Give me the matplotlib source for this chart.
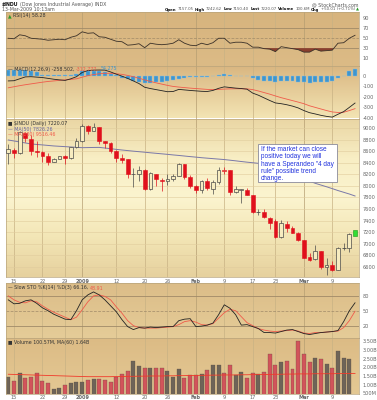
import matplotlib.pyplot as plt
import numpy as np
from matplotlib.colors import LinearSegmentedColormap
from matplotlib.patches import Rectangle

# trading days 12-Dec-2008 .. 13-Mar-2009
tick_idx = [1, 6, 10, 13, 19, 24, 28, 33, 38, 43, 47, 52, 57]
tick_lbl = ['15', '22', '29', '2009', '12', '20', '26', 'Feb', '9', '17', '23', 'Mar', '9']

opens = [8560, 8628, 8565, 8920, 8815, 8605, 8580, 8520, 8420, 8468, 8515, 8484, 8668, 8772,
         9035, 8955, 9010, 8770, 8738, 8598, 8475, 8470, 8200, 8205, 8280, 7950, 8200, 8110,
         8078, 8116, 8175, 8370, 8150, 8000, 7937, 8078, 7950, 8060, 8262, 8270, 7888, 7930,
         7932, 7845, 7550, 7555, 7440, 7400, 7115, 7350, 7265, 7180, 7063, 6765, 6730, 6870,
         6595, 6630, 6547, 6925, 6930, 7157]
highs = [8730, 8660, 8945, 8935, 8880, 8780, 8610, 8560, 8480, 8520, 8540, 8670, 8830, 9065,
         9050, 9088, 9010, 8780, 8750, 8620, 8550, 8470, 8309, 8340, 8290, 8240, 8210, 8140,
         8200, 8200, 8390, 8380, 8180, 8020, 8110, 8130, 8110, 8320, 8320, 8280, 7990, 7950,
         7960, 7850, 7600, 7600, 7460, 7430, 7411, 7400, 7300, 7200, 7063, 6840, 6980, 6875,
         6760, 6700, 6950, 7010, 7180, 7242]
lows = [8370, 8480, 8550, 8760, 8530, 8500, 8420, 8360, 8410, 8460, 8380, 8470, 8660, 8760,
        8900, 8940, 8720, 8650, 8565, 8410, 8400, 8140, 7986, 8090, 7930, 7930, 8000, 7909,
        8020, 8080, 8170, 8120, 7960, 7880, 7870, 7930, 7860, 8040, 8200, 7850, 7880, 7700,
        7840, 7530, 7490, 7440, 7250, 7100, 7100, 7200, 7180, 7050, 6750, 6705, 6725, 6570,
        6470, 6530, 6547, 6900, 6860, 7150]
closes = [8630, 8565, 8924, 8824, 8605, 8579, 8520, 8419, 8468, 8515, 8484, 8668, 8776, 9035,
          8953, 9015, 8770, 8742, 8599, 8474, 8449, 8200, 8212, 8281, 7949, 8228, 8123, 8077,
          8116, 8175, 8375, 8149, 8001, 7937, 8078, 7957, 8063, 8281, 8271, 7889, 7940, 7942,
          7850, 7553, 7556, 7466, 7366, 7115, 7351, 7271, 7182, 7063, 6763, 6726, 6876, 6594,
          6627, 6547, 6926, 6930, 7170, 7220]
ma50 = [8793, 8776, 8759, 8742, 8725, 8716, 8708, 8699, 8690, 8684, 8678, 8672, 8666, 8660,
        8662, 8664, 8665, 8654, 8643, 8631, 8620, 8610, 8600, 8591, 8582, 8572, 8563, 8554,
        8545, 8535, 8526, 8516, 8506, 8497, 8487, 8479, 8471, 8463, 8455, 8444, 8433, 8421,
        8410, 8400, 8390, 8368, 8345, 8315, 8285, 8243, 8200, 8160, 8120, 8083, 8045, 8015,
        7985, 7953, 7920, 7890, 7860, 7826]

rsi = [50, 49, 57, 55, 50, 49, 48, 46, 47, 48, 47, 52, 55, 63, 60, 61, 53, 52, 48, 44, 43,
       36, 37, 39, 31, 40, 38, 37, 38, 40, 47, 40, 36, 35, 40, 37, 41, 50, 50, 40, 42, 42,
       40, 32, 32, 29, 28, 23, 33, 31, 29, 27, 22, 22, 28, 24, 25, 26, 40, 41, 50, 56]

macd = [-50, -48, -30, -12, -10, -14, -18, -26, -34, -40, -45, -30, -10, 30, 48, 52, 53, 52,
        35, 14, -5, -26, -50, -75, -110, -122, -132, -142, -152, -150, -130, -135, -140, -144,
        -148, -150, -140, -120, -106, -112, -118, -122, -128, -165, -185, -210, -235, -258,
        -265, -275, -288, -305, -330, -350, -362, -375, -385, -392, -365, -340, -300, -259]
signal = [-115, -105, -95, -86, -78, -70, -62, -55, -50, -45, -40, -35, -30, -15, 0, 10, 18,
          22, 22, 18, 12, 2, -10, -25, -40, -55, -68, -80, -92, -102, -108, -113, -118, -122,
          -126, -130, -132, -130, -127, -125, -124, -124, -125, -132, -145, -160, -175, -192,
          -208, -222, -236, -250, -265, -285, -300, -315, -330, -343, -348, -346, -330, -312]
hist = [55, 55, 52, 50, 45, 30, 8, 5, 3, 2, 3, 5, 15, 40, 45, 45, 40, 35, 18, 2, -18, -35,
        -50, -60, -68, -65, -62, -58, -55, -45, -28, -18, -12, -10, -14, -12, -8, 5, 15, 5,
        -2, -3, -5, -25, -40, -50, -55, -58, -55, -55, -55, -58, -62, -65, -62, -60, -58, -55,
        -25, -5, 40, 65]

sto_k = [72, 64, 65, 70, 72, 65, 56, 50, 43, 38, 33, 32, 50, 72, 82, 88, 82, 72, 60, 48, 32,
         18, 12, 16, 15, 17, 16, 17, 18, 18, 30, 33, 34, 18, 19, 21, 25, 42, 62, 55, 42, 21,
         22, 18, 14, 6, 6, 5, 8, 11, 12, 8, 4, 2, 4, 6, 7, 8, 10, 28, 50, 66]
sto_d = [80, 72, 67, 66, 70, 68, 60, 53, 47, 42, 37, 32, 37, 52, 68, 80, 82, 79, 72, 58, 45,
         30, 20, 16, 15, 15, 15, 16, 17, 18, 22, 28, 30, 27, 22, 21, 24, 35, 46, 53, 50, 38,
         26, 20, 14, 11, 9, 8, 9, 10, 11, 9, 5, 4, 6, 6, 7, 8, 9, 16, 30, 49]

volume = [1.46, 1.23, 1.66, 1.37, 1.44, 1.66, 1.21, 1.08, 0.75, 0.83, 0.98, 1.08, 1.13, 1.17,
          1.27, 1.33, 1.33, 1.27, 1.17, 1.42, 1.60, 1.79, 2.37, 2.08, 1.94, 1.94, 1.94, 1.94,
          1.79, 1.46, 1.90, 1.37, 1.56, 1.56, 1.60, 1.85, 2.14, 2.14, 1.69, 2.14, 1.56, 1.71,
          1.37, 1.69, 1.60, 1.71, 2.75, 2.14, 2.33, 2.37, 1.90, 3.52, 2.75, 2.33, 2.52, 2.46,
          2.20, 1.98, 2.94, 2.52, 2.48, 0.10]
vol_ma = [1.60, 1.59, 1.58, 1.57, 1.56, 1.55, 1.54, 1.53, 1.52, 1.51, 1.50, 1.49, 1.48, 1.47,
          1.46, 1.46, 1.46, 1.46, 1.46, 1.47, 1.47, 1.48, 1.48, 1.49, 1.49, 1.50, 1.50, 1.50,
          1.51, 1.51, 1.52, 1.52, 1.53, 1.53, 1.54, 1.54, 1.55, 1.55, 1.56, 1.56, 1.56, 1.57,
          1.57, 1.58, 1.58, 1.59, 1.59, 1.60, 1.60, 1.61, 1.61, 1.62, 1.62, 1.62, 1.63, 1.63,
          1.63, 1.63, 1.64, 1.64, 1.64, 1.64]

x = np.arange(len(closes))
W, H = 377, 400
fig = plt.figure(figsize=(W / 100, H / 100), dpi=100)
fig.patch.set_facecolor('white')
plt.rcParams['font.family'] = ['DejaVu Sans']
renderer = fig.canvas.get_renderer()

def new_panel(top, bottom):
    return fig.add_axes([6 / W, 1 - bottom / H, 353 / W, (bottom - top) / H])

def panel_bg(ax, colors):
    cmap = LinearSegmentedColormap.from_list('bg', colors)
    grad = np.linspace(0, 1, 100).reshape(-1, 1)
    ax.imshow(grad, cmap=cmap, aspect='auto', extent=(0, 1, 0, 1),
              transform=ax.transAxes, zorder=0, interpolation='bilinear')

def style(ax, ylim, yticks, ylabels):
    ax.set_xlim(-0.4, 61.7)
    ax.set_ylim(*ylim)
    ax.yaxis.tick_right()
    ax.set_yticks(yticks)
    ax.set_yticklabels(ylabels)
    ax.tick_params(axis='y', labelsize=3.6, colors='#666666', length=0, pad=2.5)
    ax.set_xticks(tick_idx)
    ax.set_xticklabels([])
    ax.tick_params(axis='x', length=0)
    for xi in tick_idx:
        ax.axvline(xi, color='#c8b284' if xi not in (13, 33, 52) else '#b59e72', lw=0.5, zorder=1)
    for s in ax.spines.values():
        s.set_color('#b8a47c')
        s.set_linewidth(0.5)

def date_labels(ax):
    ax.set_xticklabels(tick_lbl)
    ax.tick_params(axis='x', labelsize=3.6, colors='#666666', pad=1.2)
    for t in ax.get_xticklabels():
        if t.get_text() in ('2009', 'Feb', 'Mar'):
            t.set_fontweight('bold')

def text_row(px, py, parts, size=3.4, right=False, gap=1.5):
    # parts: (text, colour, weight) placed one after another, pixel coords from top-left
    widths = []
    for txt, col, wt in parts:
        t = fig.text(0, 0, txt, fontsize=size, fontweight=wt)
        widths.append(t.get_window_extent(renderer).width)
        t.remove()
    if right:
        px = px - sum(widths) - gap * (len(parts) - 1)
    for (txt, col, wt), w in zip(parts, widths):
        fig.text(px / W, 1 - py / H, txt, fontsize=size, fontweight=wt, color=col, va='center',
                 zorder=8)
        px += w + gap

# header
text_row(2, 4.5, [('$INDU', '#111111', 'bold'),
                  ('(Dow Jones Industrial Average) INDX', '#555555', 'normal')])
text_row(2, 9.5, [('13-Mar-2009 10:13am', '#555555', 'normal')])
text_row(359, 4.5, [('@ StockCharts.com', '#555555', 'normal')], right=True)
text_row(359, 9.5, [('Open', '#111111', 'bold'), ('7157.05', '#555555', 'normal'),
                    ('High', '#111111', 'bold'), ('7242.62', '#555555', 'normal'),
                    ('Low', '#111111', 'bold'), ('7150.40', '#555555', 'normal'),
                    ('Last', '#111111', 'bold'), ('7220.07', '#555555', 'normal'),
                    ('Volume', '#111111', 'bold'), ('100.6M', '#555555', 'normal'),
                    ('Chg', '#111111', 'bold'), ('+50.01 (+0.71%)', '#555555', 'normal'),
                    ('\u25b2', '#2a9a2a', 'normal')], size=2.8, right=True, gap=1.1)

# RSI
ax1 = new_panel(12, 66)
panel_bg(ax1, ['#d7b47e', '#dcbb86'])
style(ax1, (-6, 103), [90, 70, 50, 30, 10], ['90', '70', '50', '30', '10'])
ax1.axhline(70, color='#a08a68', lw=0.6, zorder=1)
ax1.axhline(30, color='#a08a68', lw=0.6, zorder=1)
ax1.axhline(50, color='#a08a68', lw=0.5, ls=(0, (4, 2)), zorder=1)
ax1.plot(x, rsi, color='#3a3028', lw=0.6, zorder=3)
r = np.array(rsi, dtype=float)
ax1.fill_between(x, r, 30, where=r < 30, interpolate=True, color='#8a3f2e', lw=0, zorder=2)
text_row(8, 15.5, [('\u25b2', '#2a9a2a', 'normal'), ('RSI(14) 58.28', '#333333', 'normal')])

# MACD
ax2 = new_panel(66, 118.5)
panel_bg(ax2, ['#d9b680', '#f3e4b4'])
style(ax2, (-405, 91), [0, -100, -200, -300, -400], ['0', '-100', '-200', '-300', '-400'])
ax2.bar(x, hist, width=0.7, color='#3d96d0', edgecolor='#8cc0e0', lw=0.3, zorder=2)
ax2.plot(x, signal, color='#f05a4a', lw=0.6, zorder=3)
ax2.plot(x, macd, color='#222222', lw=0.6, zorder=4)
text_row(8, 69, [('\u2014 MACD(12,26,9) -258.502,', '#333333', 'normal'),
                 ('-312.777,', '#f05a4a', 'normal'), ('54.275', '#3d96d0', 'normal')])

# price
ax3 = new_panel(118.5, 277)
panel_bg(ax3, ['#ead6a4', '#f8eec4', '#fbf4cf', '#f3e6b6', '#e6d19e'])
pt = [9000, 8800, 8600, 8400, 8200, 8000, 7800, 7600, 7400, 7200, 7000, 6800, 6600]
style(ax3, (6427, 9164), pt, [str(v) for v in pt])
for v in pt:
    ax3.axhline(v, color='#e0cc9c', lw=0.4, zorder=1)
date_labels(ax3)
ax3.plot(x, ma50, color='#7a78a8', lw=0.7, zorder=3)
for i in x[:-1]:
    o, h, l, c = opens[i], highs[i], lows[i], closes[i]
    down = i > 0 and c < closes[i - 1]
    col = '#e0101c' if down else '#4a4a4a'
    ax3.vlines(i, l, h, color=col, lw=0.5, zorder=4)
    lo, hi = min(o, c), max(o, c)
    if hi - lo < 8:
        ax3.hlines(c, i - 0.35, i + 0.35, color=col, lw=0.6, zorder=5)
    elif c < o:
        ax3.add_patch(Rectangle((i - 0.33, lo), 0.66, hi - lo, facecolor=col, edgecolor=col,
                                lw=0.4, zorder=5))
    else:
        ax3.add_patch(Rectangle((i - 0.33, lo), 0.66, hi - lo, facecolor='#f7ecc0', edgecolor=col,
                                lw=0.5, zorder=5))
i = x[-1]
ax3.add_patch(Rectangle((i - 0.4, opens[i] - 25), 0.8, closes[i] - opens[i] + 50, facecolor='#33dd33',
                        edgecolor='#1a9a1a', lw=0.4, zorder=5))
text_row(8, 123.5, [('\u25a0 $INDU (Daily) 7220.07', '#333333', 'normal')])
text_row(8, 129, [('\u2014 MA(50) 7826.26', '#6a68a0', 'normal')])
text_row(8, 134.5, [('\u2014 MA(200) 9516.46', '#f05a4a', 'normal')])
ax3.add_patch(Rectangle((0.714, 0.60), 0.224, 0.24, transform=ax3.transAxes, facecolor='white',
                        edgecolor='#8a8a9a', lw=0.6, zorder=6))
ax3.text(0.722, 0.825, 'If the market can close\npositive today we will\nhave a Sperandeo "4 day\n'
         'rule" possible trend\nchange.', transform=ax3.transAxes, fontsize=4.7, color='#2233dd',
         va='top', ha='left', linespacing=1.05, zorder=7, family='Liberation Sans')

# slow stochastics
ax4 = new_panel(283, 338)
panel_bg(ax4, ['#dcbd88', '#e5cc98'])
style(ax4, (-5, 106), [80, 50, 20], ['80', '50', '20'])
ax4.axhline(80, color='#a08a68', lw=0.6, zorder=1)
ax4.axhline(20, color='#a08a68', lw=0.6, zorder=1)
ax4.axhline(50, color='#a08a68', lw=0.5, ls=(0, (4, 2)), zorder=1)
ax4.plot(x, sto_d, color='#f05a4a', lw=0.6, zorder=3)
ax4.plot(x, sto_k, color='#222222', lw=0.6, zorder=4)
text_row(8, 288, [('\u2014 Slow STO %K(14) %D(3) 66.16,', '#333333', 'normal'),
                  ('48.91', '#f05a4a', 'normal')])

# volume
ax5 = new_panel(338, 393.5)
panel_bg(ax5, ['#dcbb85', '#e4c994'])
vt = [3.5, 3.0, 2.5, 2.0, 1.5, 1.0, 0.5]
style(ax5, (0.49, 3.69), vt, ['3.50B', '3.00B', '2.50B', '2.00B', '1.50B', '1.00B', '500M'])
date_labels(ax5)
vcol = ['#6e6458'] + ['#d2545a' if closes[k] < closes[k - 1] else '#6e6458' for k in x[1:]]
ax5.bar(x, volume, width=0.7, color=vcol, edgecolor='#5a4c40', lw=0.2, zorder=2)
ax5.plot(x, vol_ma, color='#f03a2a', lw=0.6, zorder=3)
text_row(8, 342.5, [('\u25a0 Volume 100.57M, MA(60) 1.64B', '#333333', 'normal')])

fig.savefig('out.png', dpi=100)
